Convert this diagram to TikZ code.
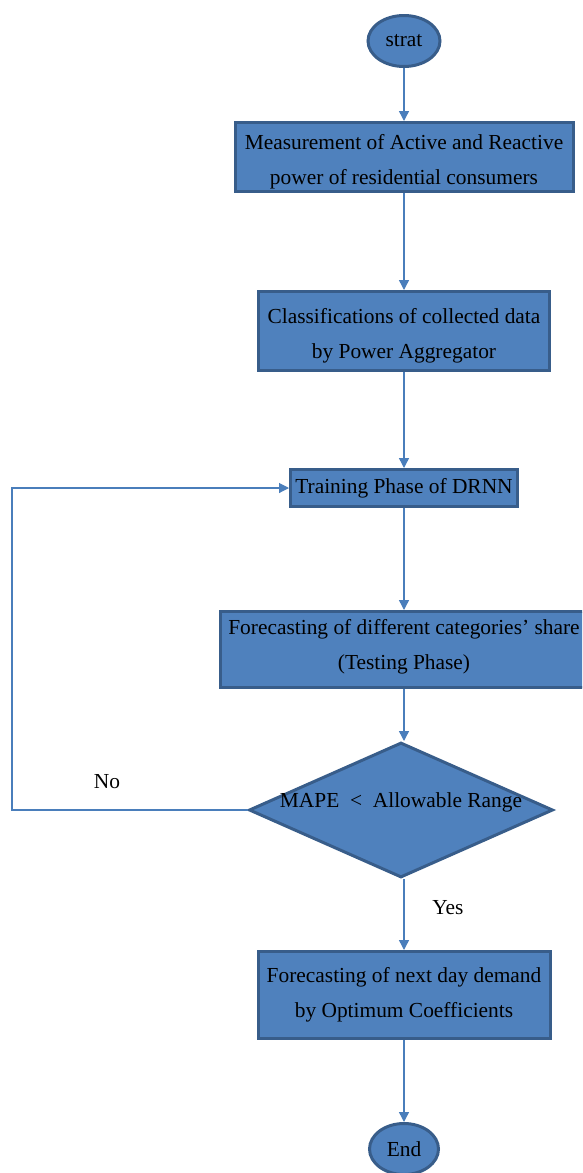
\documentclass[tikz,border=0pt]{standalone}
\usepackage{fontspec}
\setmainfont{Liberation Serif}
\usetikzlibrary{shapes.geometric,arrows.meta}
\definecolor{fillblue}{HTML}{4F81BD}
\definecolor{edgeblue}{HTML}{385D8A}
\definecolor{lineblue}{HTML}{4A7EBB}
\newcommand{\twolines}[3]{\raisebox{#1}[0pt][0pt]{\begin{tabular}{@{}c@{}}#2\\#3\end{tabular}}}
\begin{document}
\begin{tikzpicture}[x=1pt,y=-1pt,
  every node/.style={font=\fontsize{21.4}{35}\selectfont},
  procbox/.style={draw=edgeblue,fill=fillblue,line width=3pt,rectangle,align=center,inner sep=0pt},
  term/.style={draw=edgeblue,fill=fillblue,line width=3pt,ellipse,inner sep=0pt},
  decision/.style={draw=edgeblue,fill=fillblue,line width=3pt,diamond,inner sep=0pt},
  flow/.style={draw=lineblue,line width=1.4pt,-{Triangle[length=10pt,width=10pt]}}]
\useasboundingbox (0,0) rectangle (582,1173);
\clip (0,0) rectangle (582,1173);

\node[term, minimum width=72pt, minimum height=51pt] (start) at (404,41) {strat};
\node[procbox, minimum width=338pt, minimum height=69pt] (b1) at (404,157)
  {\twolines{-8.3pt}{Measurement of Active and Reactive}{power of residential consumers}};
\node[procbox, minimum width=291pt, minimum height=79pt] (b2) at (404,331)
  {\twolines{-7.8pt}{Classifications of collected data}{by Power Aggregator}};
\node[procbox, minimum width=227pt, minimum height=37pt] (b3) at (404,488)
  {Training Phase of DRNN};
\node[procbox, minimum width=367pt, minimum height=76pt] (b4) at (404,649.5)
  {\twolines{-0.8pt}{Forecasting of different categories’ share}{(Testing Phase)}};
\node[decision, minimum width=304pt, minimum height=135pt,
  label={[yshift=8pt]center:MAPE\ \ <\ \ Allowable Range}] (dia) at (401,810) {};
\node[procbox, minimum width=292pt, minimum height=87pt] (b5) at (404,995)
  {\twolines{-3.3pt}{Forecasting of next day demand}{by Optimum Coefficients}};
\node[term, minimum width=69pt, minimum height=51pt] (end) at (404,1149) {End};

\coordinate (loopx) at (12,0);
\node (no) at (107,782) {No};
\node (yes) at (448,908) {Yes};

\draw[flow] (start.south) -- (b1.north);
\draw[flow] (b1.south) -- (b2.north);
\draw[flow] (b2.south) -- (b3.north);
\draw[flow] (b3.south) -- (b4.north);
\draw[flow] (b4.south) -- (b4.south |- dia.north);
\draw[flow] (dia.south -| b5.north) -- (b5.north);
\draw[flow] (b5.south) -- (end.north);
\draw[flow, line width=1.1pt] (dia.west) -- (dia.west -| loopx) |- (b3.west);
\end{tikzpicture}
\end{document}
